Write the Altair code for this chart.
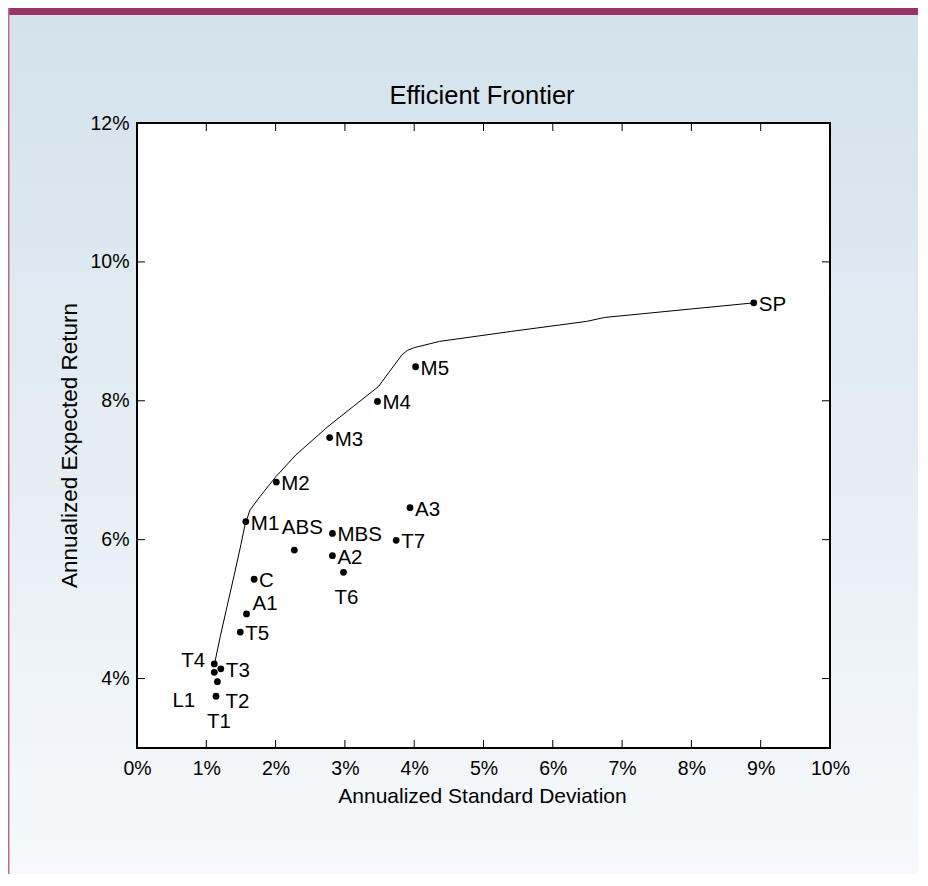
import altair as alt
import pandas as pd

# ---------------- data ----------------
names = ["SP", "M5", "M4", "M3", "M2", "M1", "ABS", "MBS", "A2", "T6",
         "T7", "A3", "C", "A1", "T5", "T4", "T3", "L1", "T2", "T1"]
std_dev = [8.90, 4.02, 3.47, 2.78, 2.01, 1.57, 2.27, 2.82, 2.82, 2.98,
           3.74, 3.94, 1.69, 1.58, 1.49, 1.115, 1.21, 1.115, 1.16, 1.14]
exp_ret = [9.41, 8.49, 7.99, 7.47, 6.83, 6.26, 5.85, 6.09, 5.77, 5.53,
           5.99, 6.46, 5.43, 4.93, 4.67, 4.21, 4.14, 4.09, 3.955, 3.745]
label_place = ["right", "right", "right", "right", "right", "right", "above", "right", "right", "below",
               "right", "right", "right", "upright", "right", "left", "right", "lowleft", "lowright", "below"]

frontier_sd = [1.11, 1.20, 1.30, 1.40, 1.50, 1.558, 1.631, 1.775, 2.006, 2.294,
               2.756, 3.121, 3.485, 3.821, 3.90, 4.001, 4.365, 5.401, 6.488, 6.748, 8.90]
frontier_ret = [4.17, 4.60, 5.04, 5.48, 5.93, 6.213, 6.429, 6.621, 6.909, 7.222,
                7.630, 7.918, 8.206, 8.660, 8.725, 8.765, 8.855, 8.999, 9.143, 9.200, 9.41]

x_ticks = [0, 1, 2, 3, 4, 5, 6, 7, 8, 9, 10]
y_ticks = [4, 6, 8, 10, 12]
x_inner_ticks = [1, 2, 3, 4, 5, 6, 7, 8, 9]
y_inner_ticks = [4, 6, 8, 10]

title_text = "Efficient Frontier"
x_title = "Annualized Standard Deviation"
y_title = "Annualized Expected Return"

# ---------------- styling ----------------
W, H = 693, 625
PL, PT, PR, PB = 129, 115, 88, 126
FONT = "Liberation Sans"

pts = pd.DataFrame({"name": names, "sd": std_dev, "ret": exp_ret, "place": label_place})
front = pd.DataFrame({"sd": frontier_sd, "ret": frontier_ret, "i": list(range(len(frontier_sd)))})
one = pd.DataFrame({"k": [0]})

xscale = alt.Scale(domain=[0, 10], nice=False, zero=False)
yscale = alt.Scale(domain=[3, 12], nice=False, zero=False)

xaxis = alt.Axis(values=x_ticks, labelExpr="datum.value + '%'", ticks=False, domain=False, grid=False,
                 labelFont=FONT, labelFontSize=19.5, labelColor="black", labelPadding=11,
                 labelFlush=False, labelOverlap=False,
                 title=x_title, titleFont=FONT, titleFontSize=21, titleFontWeight="normal",
                 titleColor="black", titleX=345, titleY=37, titleBaseline="top", titleAlign="center",
                 zindex=2)
yaxis = alt.Axis(values=y_ticks, labelExpr="datum.value + '%'", ticks=False, domain=False, grid=False,
                 labelFont=FONT, labelFontSize=19.5, labelColor="black", labelPadding=8,
                 labelFlush=False, labelOverlap=False,
                 title=y_title, titleFont=FONT, titleFontSize=22.5, titleFontWeight="normal",
                 titleColor="black", titleX=-68, titleY=322, titleBaseline="middle", titleAlign="center",
                 titleAngle=270, zindex=2)


def X(field):
    return alt.X(field, scale=xscale, axis=xaxis)


def Y(field):
    return alt.Y(field, scale=yscale, axis=yaxis)


bg_grad = alt.LinearGradient(
    gradient="linear", x1=0, x2=0, y1=0, y2=1,
    stops=[alt.GradientStop(color="#d3e2eb", offset=0),
           alt.GradientStop(color="#e4edf3", offset=0.5),
           alt.GradientStop(color="#f7f9fc", offset=1)])

bg = alt.Chart(one).mark_rect(color=bg_grad).encode(
    x=alt.value(-PL), x2=alt.value(W + PR), y=alt.value(-PT), y2=alt.value(H + PB))
topbar = alt.Chart(one).mark_rect(color="#993366").encode(
    x=alt.value(-PL), x2=alt.value(W + PR), y=alt.value(-PT), y2=alt.value(-PT + 7))
leftline = alt.Chart(one).mark_rule(color="#b96a93", strokeWidth=1.5).encode(
    x=alt.value(-PL + 0.75), y=alt.value(-PT), y2=alt.value(H + PB))
plotbg = alt.Chart(one).mark_rect(color="white").encode(
    x=alt.value(0), x2=alt.value(W), y=alt.value(0), y2=alt.value(H))

title = alt.Chart(one).mark_text(text=title_text, font=FONT, fontSize=25.5, color="black",
                                 align="center", baseline="alphabetic").encode(
    x=alt.value(345), y=alt.value(-19))

line = alt.Chart(front).mark_line(color="black", strokeWidth=1).encode(
    x=X("sd:Q"), y=Y("ret:Q"), order="i:Q")

xt = pd.DataFrame({"v": x_inner_ticks})
yt = pd.DataFrame({"v": y_inner_ticks})
TL = 8
tick_top = alt.Chart(xt).mark_rule(color="black", strokeWidth=1).encode(
    x=X("v:Q"), y=alt.value(0), y2=alt.value(TL))
tick_bot = alt.Chart(xt).mark_rule(color="black", strokeWidth=1).encode(
    x=X("v:Q"), y=alt.value(H - TL), y2=alt.value(H))
tick_left = alt.Chart(yt).mark_rule(color="black", strokeWidth=1).encode(
    y=Y("v:Q"), x=alt.value(0), x2=alt.value(TL))
tick_right = alt.Chart(yt).mark_rule(color="black", strokeWidth=1).encode(
    y=Y("v:Q"), x=alt.value(W - TL), x2=alt.value(W))

dots = alt.Chart(pts).mark_circle(size=46, color="black", opacity=1).encode(
    x=X("sd:Q"), y=Y("ret:Q"))

place_style = {
    "right": (5, 2, "left"),
    "upright": (6, -10, "left"),
    "above": (8, -22, "center"),
    "below": (3, 26, "center"),
    "left": (-9, -3, "right"),
    "lowleft": (-19, 29, "right"),
    "lowright": (8, 20, "left"),
}
text_layers = []
for p, (dx, dy, al) in place_style.items():
    text_layers.append(
        alt.Chart(pts).transform_filter(alt.datum.place == p).mark_text(
            dx=dx, dy=dy, align=al, baseline="middle", font=FONT, fontSize=20.5, color="black"
        ).encode(x=X("sd:Q"), y=Y("ret:Q"), text="name:N"))

frame = alt.Chart(one).mark_rect(fillOpacity=0, stroke="black", strokeWidth=2).encode(
    x=alt.value(0), x2=alt.value(W), y=alt.value(0), y2=alt.value(H))

chart = alt.layer(
    bg, topbar, leftline, plotbg, title, line,
    tick_top, tick_bot, tick_left, tick_right,
    dots, *text_layers, frame
).properties(
    width=W, height=H,
    autosize=alt.AutoSizeParams(type="none"),
    padding={"left": PL, "top": PT, "right": PR, "bottom": PB},
).configure_view(strokeWidth=0)

chart.save("out.html", embed_options={"renderer": "svg", "actions": False})
